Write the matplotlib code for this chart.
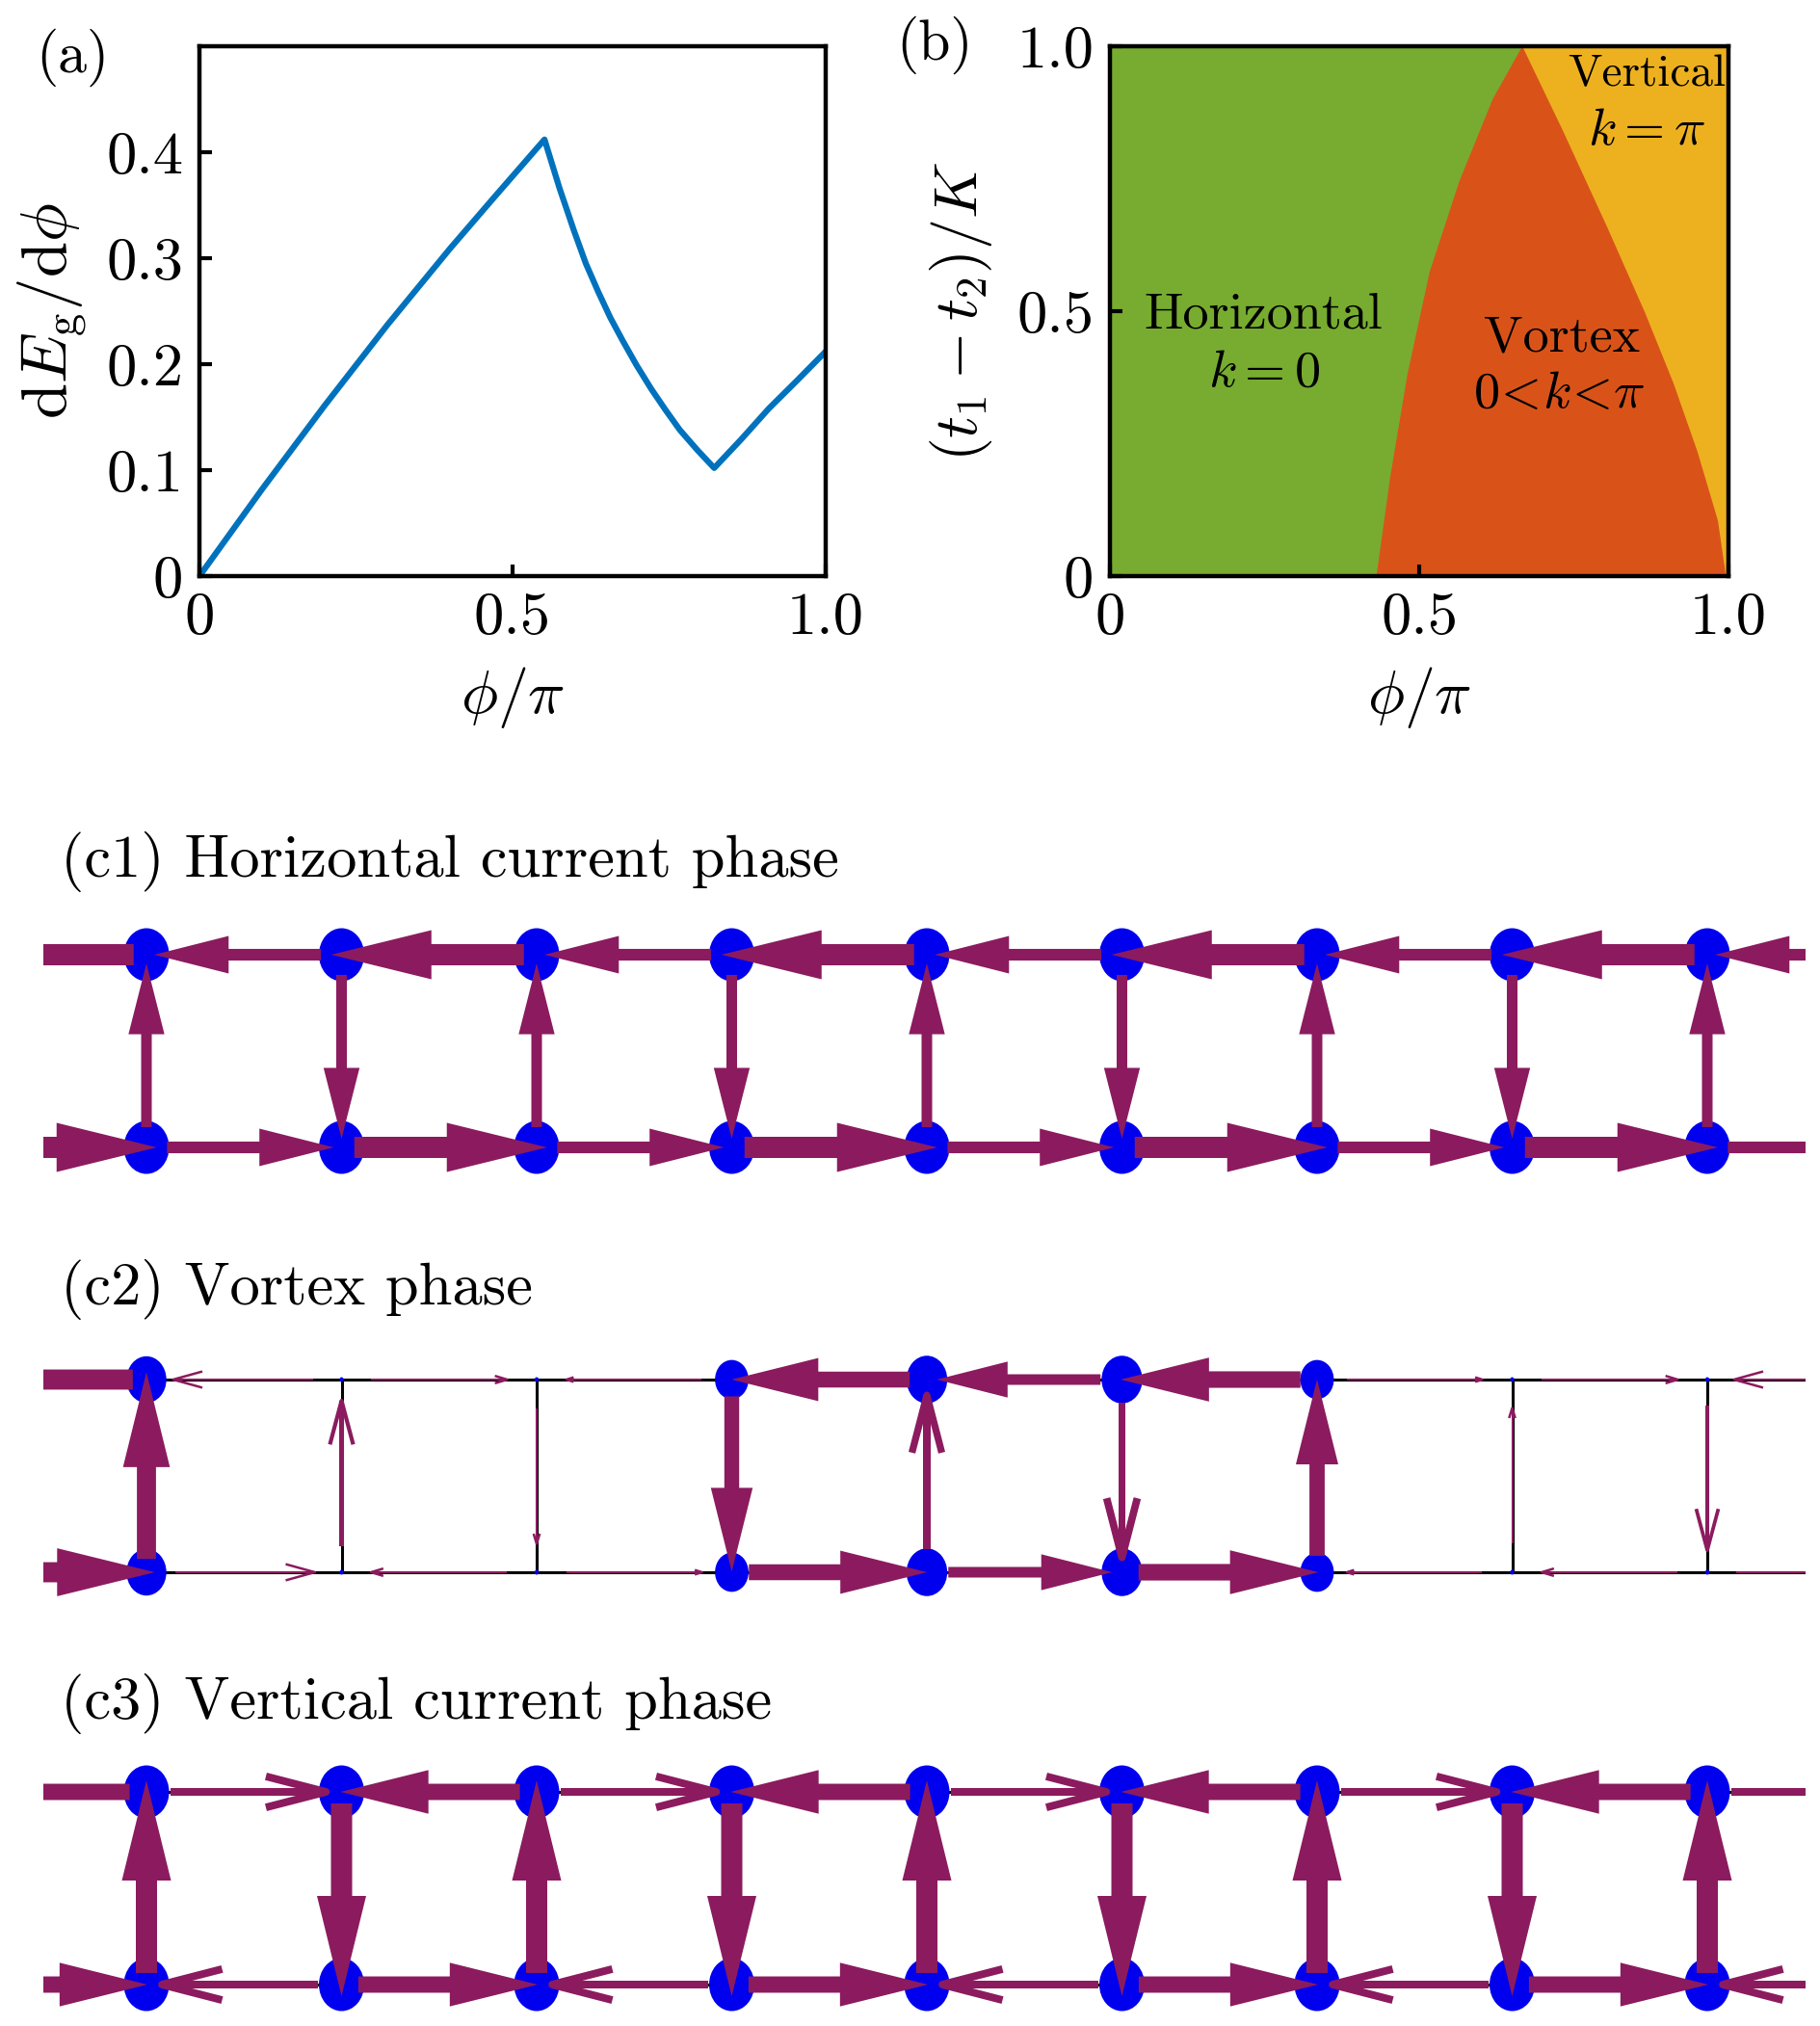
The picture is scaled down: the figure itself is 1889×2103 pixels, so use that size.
import numpy as np
import matplotlib
matplotlib.use("Agg")
import matplotlib.pyplot as plt
from matplotlib.patches import Polygon, Ellipse

plt.rcParams["font.family"] = "serif"
plt.rcParams["font.serif"] = ["cmr10"]
plt.rcParams["mathtext.fontset"] = "cm"
plt.rcParams["axes.unicode_minus"] = False

W, H = 1890, 2103

# (a) dE_g/dphi versus phi/pi
phi_a = [0, 0.1, 0.2, 0.3, 0.4, 0.47, 0.551, 0.575, 0.598, 0.617, 0.637, 0.656, 0.676, 0.698,
         0.721, 0.744, 0.767, 0.795, 0.822, 0.865, 0.909, 0.955, 1.0]
dEg_dphi = [0, 0.082, 0.161, 0.237, 0.309, 0.357, 0.412, 0.366, 0.326, 0.295, 0.268, 0.244,
            0.222, 0.199, 0.177, 0.157, 0.138, 0.119, 0.102, 0.129, 0.158, 0.185, 0.212]

# (b) phase boundaries, (t1-t2)/K versus phi/pi
t_hv = [0, 0.185, 0.38, 0.574, 0.745, 0.9, 1.0]
phi_hv = [0.432, 0.454, 0.482, 0.518, 0.566, 0.62, 0.668]
t_vv = [0, 0.105, 0.235, 0.365, 0.498, 0.659, 0.842, 1.0]
phi_vv = [0.997, 0.984, 0.951, 0.912, 0.866, 0.805, 0.733, 0.668]

# (c) bond currents, bonds j -> j+1 for j = -1..8 (positive = to the right / upward)
n_sites = 9
c1_top = [-1, -0.55, -1, -0.55, -1, -0.55, -1, -0.55, -1, -0.55]
c1_bot = [1, 0.55, 1, 0.55, 1, 0.55, 1, 0.55, 1, 0.55]
c1_rung = [0.5, -0.5, 0.5, -0.5, 0.5, -0.5, 0.5, -0.5, 0.5]
c1_size = [1] * 9

c2_top = [-0.95, -0.085, 0.015, -0.005, -0.75, -0.5, -0.78, 0.005, 0.015, -0.085]
c2_bot = [0.95, 0.085, -0.015, 0.005, 0.75, 0.5, 0.78, -0.005, -0.015, 0.085]
c2_rung = [0.9, 0.19, -0.01, -0.7, 0.33, -0.35, 0.72, 0.01, -0.17]
c2_size = [0.88, 0.09, 0.09, 0.74, 0.9, 0.9, 0.74, 0.09, 0.09]

c3_top = [-0.77, 0.36, -0.77, 0.36, -0.77, 0.36, -0.77, 0.36, -0.77, 0.36]
c3_bot = [0.77, -0.36, 0.77, -0.36, 0.77, -0.36, 0.77, -0.36, 0.77, -0.36]
c3_rung = [1, -1, 1, -1, 1, -1, 1, -1, 1]
c3_size = [1] * 9

PURPLE = "#8B1B5E"
BLUE = "#0000EE"
GREEN, ORANGE, YELLOW = "#77AC30", "#D95319", "#EDB120"
LINE = "#0072BD"

fig = plt.figure(figsize=(W / 100, H / 100), dpi=100)


def style(ax):
    for s in ax.spines.values():
        s.set_linewidth(3.2)
    ax.tick_params(direction="in", length=9, width=3, labelsize=45, pad=12,
                   top=False, right=False)


# panel (a)
axa = fig.add_axes([207 / W, 1 - 598 / H, 650 / W, 550 / H])
axa.plot(phi_a, dEg_dphi, color=LINE, lw=4.5)
axa.set_xlim(0, 1)
axa.set_ylim(0, 0.5)
axa.set_xticks([0, 0.5, 1])
axa.set_xticklabels(["0", "0.5", "1.0"])
axa.set_yticks([0, 0.1, 0.2, 0.3, 0.4])
axa.set_yticklabels(["0", "0.1", "0.2", "0.3", "0.4"])
style(axa)
axa.set_xlabel(r"$\phi/\pi$", fontsize=46, va="center")
axa.xaxis.set_label_coords(0.5, -0.23)
axa.set_ylabel(r"$\mathrm{d}E_{\mathrm{g}}/\mathrm{d}\phi$", fontsize=48, va="center")
axa.yaxis.set_label_coords(-0.235, 0.5)

# panel (b)
axb = fig.add_axes([1152 / W, 1 - 598 / H, 642 / W, 550 / H])
axb.fill([0] + phi_hv + [0], [0] + t_hv + [1], color=GREEN, lw=1)
axb.fill(phi_hv + phi_vv[::-1], t_hv + t_vv[::-1], color=ORANGE, lw=1)
axb.fill(phi_vv + [1, 1], t_vv + [1, 0], color=YELLOW, lw=1)
axb.set_xlim(0, 1)
axb.set_ylim(0, 1)
axb.set_xticks([0, 0.5, 1])
axb.set_xticklabels(["0", "0.5", "1.0"])
axb.set_yticks([0, 0.5, 1])
axb.set_yticklabels(["0", "0.5", "1.0"])
style(axb)
axb.set_xlabel(r"$\phi/\pi$", fontsize=46, va="center")
axb.xaxis.set_label_coords(0.5, -0.23)
axb.set_ylabel(r"$(t_1-t_2)/K$", fontsize=46, va="center")
axb.yaxis.set_label_coords(-0.24, 0.5)
tk = dict(transform=axb.transAxes, ha="center", va="center", fontsize=39)
axb.text(0.248, 0.49, "Horizontal", **tk)
axb.text(0.25, 0.384, r"$k=0$", **tk)
axb.text(0.73, 0.449, "Vortex", **tk)
axb.text(0.727, 0.342, r"$0\!<\!k\!<\!\pi$", **tk)
axb.text(0.868, 0.946, "Vertical", transform=axb.transAxes, ha="center", va="center", fontsize=34)
axb.text(0.868, 0.839, r"$k=\pi$", **tk)

fig.text(75 / W, 1 - 60 / H, "(a)", fontsize=43, ha="center", va="center")
fig.text(970 / W, 1 - 47 / H, "(b)", fontsize=43, ha="center", va="center")

# ladders
SX, SY = 202.5, 200.0
X0 = 152
XL, XR = 45, 1874


def arrow(ax, xa, ya, xb, yb, cur):
    if cur < 0:
        xa, ya, xb, yb = xb, yb, xa, ya
    m = abs(cur)
    pa = np.array([xa * SX, ya * SY])
    pb = np.array([xb * SX, yb * SY])
    u = (pb - pa) / np.linalg.norm(pb - pa)
    n = np.array([-u[1], u[0]])
    c = (pa + pb) / 2 + 12 * m * u
    L = 140 + 60 * m
    tail, tip = c - L / 2 * u, c + L / 2 * u
    w = max(22 * m, 2.0)
    hw = 51 * m ** 0.45
    hl = 104 * m ** 0.5
    base = tip - hl * u
    sc = np.array([SX, SY])
    if m >= 0.45:
        pts = [tail + n * w / 2, base + n * w / 2, base + n * hw / 2, tip,
               base - n * hw / 2, base - n * w / 2, tail - n * w / 2]
        ax.add_patch(Polygon(np.array(pts) / sc, closed=True, fc=PURPLE, ec="none", zorder=3))
    else:
        shaft = [tail + n * w / 2, tip + n * w / 2, tip - n * w / 2, tail - n * w / 2]
        ax.add_patch(Polygon(np.array(shaft) / sc, closed=True, fc=PURPLE, ec="none", zorder=3))
        head = np.array([base + n * hw / 2, tip, base - n * hw / 2]) / sc
        ax.plot(head[:, 0], head[:, 1], color=PURPLE, lw=max(w, 2.5) * 0.72,
                solid_joinstyle="round", solid_capstyle="butt", zorder=3)


def ladder(top_px, title_px, title, top_cur, bot_cur, rung_cur, sizes):
    ax = fig.add_axes([XL / W, 1 - (top_px + SY + 70) / H, (XR - XL) / W, (SY + 140) / H])
    ax.set_xlim((XL - X0) / SX, (XR - X0) / SX)
    ax.set_ylim(-70 / SY, 1 + 70 / SY)
    ax.axis("off")
    xl = ax.get_xlim()
    for y in (0, 1):
        ax.plot(xl, [y, y], color="k", lw=2.2, zorder=1)
    for x in range(n_sites):
        ax.plot([x, x], [0, 1], color="k", lw=2.2, zorder=1)
        for y in (0, 1):
            ax.add_patch(Ellipse((x, y), 47 * sizes[x] / SX, 55 * sizes[x] / SY,
                                 fc=BLUE, ec="none", zorder=2))
    for k, j in enumerate(range(-1, n_sites)):
        arrow(ax, j, 1, j + 1, 1, top_cur[k])
        arrow(ax, j, 0, j + 1, 0, bot_cur[k])
    for x in range(n_sites):
        arrow(ax, x, 0, x, 1, rung_cur[x])
    fig.text(63 / W, 1 - title_px / H, title, fontsize=45, ha="left", va="center")


ladder(991, 894, "(c1) Horizontal current phase", c1_top, c1_bot, c1_rung, c1_size)
ladder(1432, 1339, "(c2) Vortex phase", c2_top, c2_bot, c2_rung, c2_size)
ladder(1860, 1768, "(c3) Vertical current phase", c3_top, c3_bot, c3_rung, c3_size)

fig.savefig("out.png", dpi=100)
